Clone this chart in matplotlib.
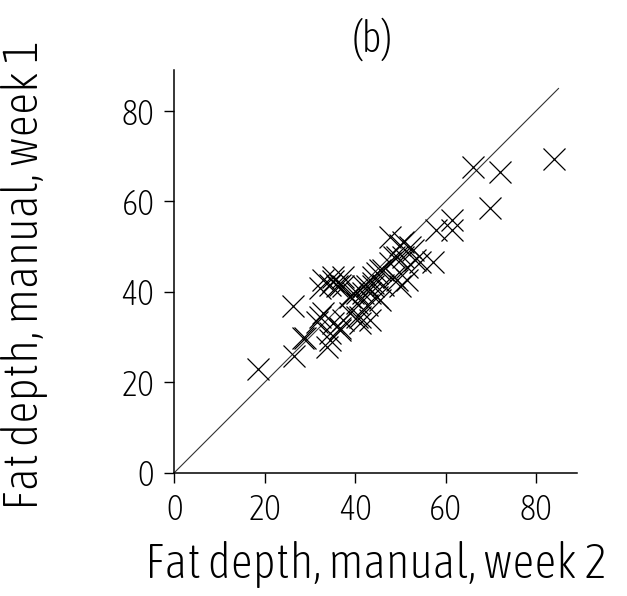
"""Scatter of fat depth, manual week 1 vs week 2 (panel b)."""

import matplotlib
matplotlib.use("Agg")
import matplotlib.pyplot as plt
from matplotlib import font_manager

# Valores (semana 2, semana 1)
week2 = [18.6, 26.3, 26.5, 28.9, 31.5, 33.7, 33.0, 35.2, 36.7, 34.4,
         34.4, 32.2, 34.4, 36.7, 33.0, 35.9, 37.4, 35.2, 35.2, 39.6,
         41.8, 40.4, 42.6, 38.9, 41.1, 43.3, 37.4, 32.2, 40.4, 41.1,
         36.7, 44.0, 41.8, 40.4, 44.0, 45.5, 48.5, 43.3, 45.5, 46.2,
         49.9, 48.5, 51.4, 44.8, 47.7, 54.4, 52.9, 49.9, 50.7, 57.3,
         47.7, 50.7, 52.1, 49.2, 53.3, 51.4, 46.2, 49.2, 44.0, 42.6,
         44.8, 38.9, 37.4, 57.9, 61.5, 61.5, 69.8, 66.0, 72.1, 83.9,
         28.5]
week1 = [22.9, 36.9, 25.9, 29.9, 33.4, 27.9, 35.3, 33.1, 31.9, 30.8,
         29.4, 40.8, 41.5, 41.5, 42.6, 41.2, 43.4, 43.4, 42.3, 39.7,
         39.7, 37.5, 37.1, 35.3, 34.5, 33.8, 33.8, 34.5, 34.5, 33.1,
         31.6, 41.2, 41.2, 39.7, 41.9, 44.8, 47.8, 39.7, 38.2, 41.5,
         41.2, 43.4, 42.6, 44.1, 46.3, 46.7, 49.3, 50.4, 47.8, 46.5,
         52.2, 51.1, 50.0, 47.8, 47.1, 45.6, 44.8, 42.6, 43.4, 41.2,
         38.9, 38.9, 41.2, 53.7, 53.7, 55.9, 58.6, 67.7, 66.6, 69.4,
         29.7]
ticks = [0, 20, 40, 60, 80]
identity = [0, 85]


def _pick_font():
    """Procura uma fonte estreita e fina, parecida com a Hershey."""
    best = None
    for f in font_manager.fontManager.ttflist:
        fn = f.fname.lower()
        if any(k in fn for k in ("bold", "italic", "oblique")):
            continue
        narrow = ("narrow" in fn or "condensed" in fn
                  or "condensed" in str(f.stretch))
        if not narrow:
            continue
        score = 0
        if "light" in fn or "thin" in fn:
            score += 2
        if "dejavu" in fn or "liberation" in fn:
            score += 1
        if best is None or score > best[0]:
            best = (score, f.fname)
    if best:
        return font_manager.FontProperties(fname=best[1])
    for f in font_manager.fontManager.ttflist:
        if "extralight" in f.fname.lower():
            return font_manager.FontProperties(fname=f.fname)
    return font_manager.FontProperties(family="DejaVu Sans")


fp = _pick_font()

fig = plt.figure(figsize=(6.27, 5.96), dpi=100)
ax = fig.add_axes([0.278, 0.2069, 0.6416, 0.675])

ax.plot(identity, identity, color="#333333", linewidth=0.8)
ax.plot(week2, week1, linestyle="none", marker="x", markersize=16,
        markeredgewidth=0.9, color="black")

ax.set_xlim(0, 89)
ax.set_ylim(0, 89)
ax.set_xticks(ticks)
ax.set_yticks(ticks)
ax.spines["top"].set_visible(False)
ax.spines["right"].set_visible(False)
for s in ("left", "bottom"):
    ax.spines[s].set_linewidth(1.1)
ax.tick_params(direction="out", length=7.5, width=1.0, pad=7)
for lab in ax.get_xticklabels() + ax.get_yticklabels():
    lab.set_fontproperties(fp)
    lab.set_fontsize(25)

xl = fig.text(376 / 627, 1 - 565 / 596, "Fat depth, manual, week 2",
              fontproperties=fp, fontsize=33, ha="center", va="center")
yl = fig.text(25 / 627, 1 - 275 / 596, "Fat depth, manual, week 1",
              fontproperties=fp, fontsize=33, ha="center", va="center",
              rotation=90)
tt = fig.text(372 / 627, 1 - 39 / 596, "(b)", fontproperties=fp, fontsize=31,
              ha="center", va="center")

# ajusta o tamanho da fonte para a largura do texto no original
fig.canvas.draw()
r = fig.canvas.get_renderer()
w = xl.get_window_extent(r).width
xl.set_fontsize(min(38, 33 * 462 / w))
h = yl.get_window_extent(r).height
yl.set_fontsize(min(38, 33 * 470 / h))

fig.savefig("out.png", dpi=100, facecolor="white")
plt.close(fig)
